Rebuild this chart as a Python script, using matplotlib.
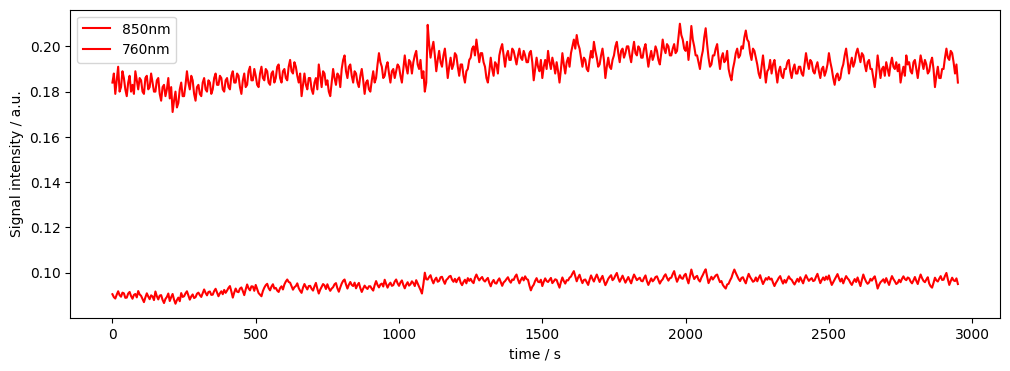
import numpy as np
import matplotlib
matplotlib.use("Agg")
import matplotlib.pyplot as plt

# tempo in secondi, un punto ogni 5 s
tempo = np.arange(0, 2955, 5)

# segnale 850nm (in unita' di 1e-3 a.u.), letto a occhio dal grafico
s850 = [
    184, 188, 179, 185, 191, 180, 182, 189, 186, 181,
    178, 184, 187, 180, 183, 179, 189, 185, 181, 186,
    185, 180, 179, 186, 187, 181, 182, 188, 184, 180,
    180, 185, 186, 179, 176, 182, 183, 178, 181, 186,
    177, 182, 171, 176, 180, 173, 175, 181, 184, 178,
    178, 183, 189, 184, 181, 187, 185, 179, 176, 182,
    183, 179, 178, 184, 186, 181, 180, 185, 184, 179,
    181, 186, 188, 183, 183, 187, 186, 181, 180, 185,
    186, 182, 181, 187, 189, 184, 184, 188, 187, 182,
    179, 185, 188, 182, 183, 189, 191, 185, 185, 190,
    187, 183, 182, 188, 191, 186, 185, 190, 189, 184,
    183, 188, 189, 184, 186, 191, 192, 186, 184, 189,
    190, 186, 185, 191, 194, 189, 188, 193, 191, 187,
    184, 188, 178, 183, 188, 183, 181, 186, 186, 181,
    179, 184, 186, 181, 192, 187, 182, 189, 188, 183,
    185, 180, 178, 184, 190, 186, 183, 188, 187, 182,
    190, 194, 196, 189, 186, 191, 192, 187, 184, 189,
    188, 184, 182, 187, 190, 185, 179, 184, 185, 181,
    180, 185, 189, 184, 186, 192, 197, 193, 191, 186,
    187, 191, 193, 188, 184, 189, 190, 186, 189, 192,
    191, 187, 184, 190, 196, 191, 188, 194, 193, 188,
    193, 196, 198, 192, 190, 194, 186, 189, 180, 184,
    209.5, 201, 195, 199, 202, 196, 189, 194, 198, 193,
    191, 196, 199, 193, 186, 191, 195, 190, 192, 197,
    196, 191, 187, 192, 192, 187, 184, 189, 190, 194,
    195, 199, 200, 196, 203, 198, 193, 197, 197, 193,
    191, 186, 184, 189, 195, 190, 187, 193, 192, 188,
    196, 199, 201, 196, 191, 196, 198, 194, 194, 199,
    198, 195, 192, 196, 199, 195, 194, 198, 196, 193,
    193, 197, 198, 193, 185, 190, 195, 191, 189, 194,
    186, 191, 194, 190, 198, 193, 190, 195, 192, 188,
    193, 189, 184, 190, 197, 192, 188, 193, 195, 191,
    197, 200, 203, 199, 205, 201, 199, 195, 191, 195,
    194, 190, 189, 194, 198, 195, 202, 198, 195, 191,
    192, 196, 199, 194, 186, 191, 195, 191, 190, 194,
    196, 200, 202, 197, 193, 198, 199, 195, 197, 200,
    200, 196, 193, 198, 202, 197, 196, 200, 199, 195,
    195, 199, 201, 196, 191, 195, 198, 194, 196, 200,
    198, 194, 192, 197, 203, 199, 197, 201, 200, 196,
    196, 199, 201, 197, 198, 204, 210, 205, 203, 199,
    198, 202, 194, 200, 209, 203, 200, 196, 196, 193,
    190, 195, 198, 204, 208, 201, 195, 191, 192, 196,
    196, 199, 201, 195, 190, 195, 197, 193, 194, 198,
    190, 187, 185, 190, 193, 197, 199, 195, 196, 200,
    199, 204, 207, 203, 202, 197, 194, 199, 198, 195,
    192, 188, 186, 191, 196, 190, 184, 189, 190, 194,
    188, 192, 194, 189, 184, 189, 191, 187, 186, 190,
    190, 193, 194, 189, 186, 190, 192, 188, 188, 191,
    191, 188, 187, 192, 197, 193, 190, 194, 193, 189,
    188, 191, 193, 189, 186, 190, 191, 187, 189, 192,
    197, 193, 190, 186, 183, 187, 188, 185, 186, 190,
    192, 196, 199, 194, 188, 192, 195, 191, 193, 197,
    199, 196, 193, 197, 196, 192, 189, 193, 194, 190,
    190, 186, 182, 188, 196, 191, 186, 190, 191, 187,
    193, 190, 187, 192, 195, 191, 190, 193, 189, 192,
    184, 188, 191, 187, 196, 192, 193, 189, 188, 193,
    194, 190, 186, 191, 196, 193, 190, 194, 192, 188,
    189, 193, 195, 190, 182, 187, 191, 186, 186, 190,
    190, 195, 199, 195, 194, 198, 197, 193, 188, 192,
    184,
]

# segnale 760nm (in unita' di 1e-3 a.u.)
s760 = [
    90.5, 89.2, 88.6, 90.3, 91.8, 90.1, 89.4, 91.2, 90.9, 88.9,
    89.0, 90.8, 91.5, 89.7, 88.5, 90.2, 90.6, 89.1, 91.9, 90.4,
    89.8, 88.4, 87.0, 89.1, 90.9, 89.5, 88.3, 90.0, 89.5, 87.9,
    91.7, 89.6, 88.2, 89.9, 90.1, 88.0, 86.6, 88.4, 89.3, 90.8,
    87.5, 89.2, 90.6, 88.1, 86.3, 87.9, 89.0, 87.4, 91.0, 89.3,
    89.6, 90.9, 91.8, 89.9, 88.1, 89.5, 90.4, 88.8, 89.2, 90.7,
    91.2, 90.1, 89.3, 91.0, 92.6, 91.1, 90.0, 91.5, 91.7, 90.2,
    90.3, 91.9, 92.9, 91.2, 89.6, 90.9, 91.8, 90.5, 92.4, 91.1,
    92.1, 93.3, 94.1, 91.7, 89.0, 91.2, 93.0, 91.6, 91.4, 93.0,
    93.5, 91.9, 90.1, 92.6, 94.8, 93.1, 92.2, 94.0, 93.9, 92.0,
    94.6, 92.8, 91.0, 90.3, 89.6, 91.9, 93.4, 94.5, 95.1, 93.2,
    92.2, 93.9, 94.9, 93.0, 93.3, 92.1, 91.5, 93.2, 94.0, 92.6,
    94.8, 96.1, 97.0, 95.9, 95.6, 94.0, 92.5, 93.6, 94.1, 95.3,
    93.2, 92.0, 91.1, 93.4, 95.0, 93.7, 92.6, 94.1, 94.2, 92.9,
    92.1, 94.0, 95.5, 92.9, 90.8, 92.5, 93.7, 95.0, 94.4, 92.8,
    94.9, 93.2, 92.0, 93.0, 93.6, 94.9, 95.4, 93.1, 91.6, 93.5,
    95.2, 96.4, 97.0, 94.8, 93.0, 94.7, 95.9, 94.6, 94.1, 95.6,
    93.1, 94.6, 95.5, 93.2, 91.5, 93.0, 94.3, 93.4, 92.8, 94.0,
    94.0, 92.9, 92.1, 94.5, 96.3, 94.6, 93.5, 94.8, 95.2, 93.9,
    96.9, 95.0, 93.4, 94.8, 95.6, 94.2, 94.5, 96.1, 97.0, 95.3,
    94.2, 95.7, 96.6, 94.6, 93.1, 94.7, 95.8, 94.3, 94.9, 96.2,
    95.4, 94.1, 96.7, 95.2, 93.8, 92.4, 90.8, 94.9, 100.0, 97.1,
    97.0, 98.1, 98.9, 96.8, 95.3, 96.9, 97.8, 96.0, 96.4, 98.0,
    98.2, 96.5, 95.1, 96.8, 97.4, 98.3, 98.6, 96.9, 96.0, 97.3,
    95.8, 97.1, 97.9, 95.6, 94.5, 95.9, 96.9, 95.3, 97.6, 96.4,
    97.3, 96.1, 95.4, 97.8, 99.2, 97.7, 96.6, 97.5, 98.1, 96.7,
    96.1, 97.0, 97.7, 95.5, 94.0, 95.8, 96.8, 95.4, 95.2, 96.6,
    97.5, 95.8, 94.2, 95.7, 96.3, 97.2, 98.0, 96.5, 95.6, 97.0,
    96.8, 98.3, 99.2, 97.0, 95.3, 96.8, 97.9, 96.6, 98.4, 97.2,
    96.9, 94.3, 92.2, 93.8, 94.7, 96.4, 97.6, 96.0, 95.8, 96.9,
    94.1, 96.0, 97.5, 96.3, 95.9, 96.8, 97.7, 95.4, 96.2, 97.1,
    96.8, 95.0, 93.4, 95.9, 97.9, 96.3, 95.2, 96.7, 96.6, 97.8,
    98.3, 99.6, 100.7, 98.4, 96.2, 97.9, 99.1, 97.0, 95.4, 96.8,
    97.0, 95.8, 94.6, 96.9, 98.8, 97.3, 96.1, 97.8, 99.2, 97.6,
    95.9, 97.4, 98.6, 96.4, 94.5, 95.8, 97.3, 98.2, 98.9, 96.7,
    97.4, 98.8, 99.9, 97.6, 96.0, 97.4, 98.7, 97.1, 95.6, 96.9,
    98.1, 96.6, 95.3, 97.4, 99.2, 97.9, 96.7, 97.3, 97.8, 96.4,
    96.2, 97.7, 98.8, 96.3, 94.6, 96.1, 97.5, 96.2, 96.9, 98.1,
    98.4, 96.8, 95.2, 96.4, 97.1, 98.5, 99.3, 97.7, 96.5, 97.6,
    97.8, 99.4, 100.7, 98.1, 96.0, 97.5, 98.9, 97.6, 97.3, 98.8,
    99.5, 97.2, 95.3, 98.4, 101.4, 99.0, 97.2, 98.1, 98.6, 96.9,
    96.1, 97.8, 99.0, 100.4, 101.5, 98.3, 95.4, 96.9, 98.2, 97.0,
    97.9, 98.8, 99.2, 97.4, 95.8, 96.3, 94.6, 93.7, 93.0, 94.8,
    95.1, 96.6, 97.8, 99.8, 101.4, 99.9, 98.6, 97.2, 96.3, 97.7,
    98.0, 96.5, 95.3, 97.6, 99.5, 98.1, 97.1, 96.0, 96.4, 97.9,
    96.2, 97.7, 98.9, 96.8, 95.0, 96.3, 97.6, 96.9, 98.1, 97.0,
    97.4, 95.6, 94.1, 95.5, 96.5, 97.7, 98.5, 96.6, 95.2, 96.8,
    95.6, 97.1, 98.4, 97.3, 96.9, 95.7, 94.8, 96.1, 97.3, 96.0,
    98.0, 96.6, 95.3, 97.4, 98.9, 97.5, 96.4, 97.1, 97.6, 96.3,
    96.6, 98.2, 99.5, 97.3, 95.4, 96.8, 97.9, 96.7, 98.3, 97.0,
    98.8, 96.5, 94.6, 95.8, 97.0, 98.2, 99.4, 97.6, 96.1, 97.4,
    95.3, 97.0, 98.5, 97.5, 96.8, 95.5, 94.6, 96.0, 97.2, 95.9,
    97.9, 96.0, 94.1, 96.8, 99.2, 97.4, 96.0, 95.1, 95.7, 97.3,
    96.5, 97.6, 98.4, 95.9, 93.0, 94.6, 95.8, 96.4, 97.1, 95.6,
    97.6, 96.0, 94.6, 96.7, 98.5, 97.2, 96.2, 95.0, 95.5, 96.9,
    95.8, 97.3, 98.4, 97.2, 96.7, 97.9, 97.5, 96.1, 95.3, 96.6,
    98.1, 96.4, 95.0, 97.3, 99.2, 97.6, 96.4, 95.8, 97.0, 98.0,
    95.2, 94.0, 93.4, 95.5, 97.8, 96.6, 96.1, 97.4, 98.5, 96.8,
    96.9, 98.6, 99.9, 97.1, 94.6, 96.3, 97.8, 96.6, 96.3, 97.5,
    95.0,
]

s850 = np.array(s850) / 1000
s760 = np.array(s760) / 1000

plt.figure(figsize=(12, 4))
plt.plot(tempo, s850, color="red", label="850nm")
plt.plot(tempo, s760, color="red", label="760nm")

plt.xlabel("time / s")
plt.ylabel("Signal intensity / a.u.")
plt.legend(loc="upper left")

plt.savefig("out.png", dpi=100, bbox_inches="tight")
